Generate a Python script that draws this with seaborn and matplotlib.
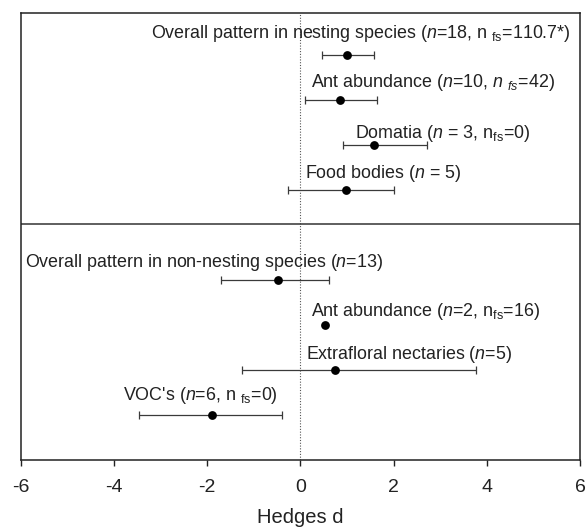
import numpy as np
import pandas as pd
import matplotlib
matplotlib.use("Agg")
import matplotlib.pyplot as plt
import seaborn as sns

# effect sizes (Hedges d) with 95% CI
groups = ["nesting"] * 4 + ["non-nesting"] * 4
labels = [
    r"Overall pattern in nesting species ($\mathit{n}$=18, n $_{\mathrm{fs}}$=110.7*)",
    r"Ant abundance ($\mathit{n}$=10, $\mathit{n}$ $_{\mathit{fs}}$=42)",
    r"Domatia ($\mathit{n}$ = 3, n$_{\mathrm{fs}}$=0)",
    r"Food bodies ($\mathit{n}$ = 5)",
    r"Overall pattern in non-nesting species ($\mathit{n}$=13)",
    r"Ant abundance ($\mathit{n}$=2, n$_{\mathrm{fs}}$=16)",
    r"Extrafloral nectaries ($\mathit{n}$=5)",
    r"VOC's ($\mathit{n}$=6, n $_{\mathrm{fs}}$=0)",
]
row = [1, 2, 3, 4, 6, 7, 8, 9]
d = [1.00, 0.84, 1.59, 0.99, -0.49, 0.53, 0.74, -1.89]
ci_low = [0.46, 0.09, 0.92, -0.26, -1.71, np.nan, -1.25, -3.46]
ci_high = [1.58, 1.64, 2.72, 2.00, 0.61, np.nan, 3.77, -0.39]

# where each label starts (x) and how far above its point the baseline sits
label_x = [-3.21, 0.22, 1.17, 0.10, -5.90, 0.22, 0.12, -3.80]
label_dy = [0.37, 0.28, 0.15, 0.26, 0.30, 0.21, 0.24, 0.33]

df = pd.DataFrame({"group": groups, "label": labels, "row": row, "d": d,
                   "lo": ci_low, "hi": ci_high})

sns.set_style("white")
plt.rcParams["font.family"] = ["Liberation Sans", "DejaVu Sans"]
plt.rcParams["mathtext.fontset"] = "custom"
plt.rcParams["mathtext.rm"] = "Liberation Sans"
plt.rcParams["mathtext.it"] = "Liberation Sans:italic"
plt.rcParams["axes.unicode_minus"] = False

fig = plt.figure(figsize=(5.86, 5.32), dpi=100)
ax = fig.add_axes([0.0353, 0.1353, 0.9545, 0.8407])

txt = "#222222"
ax.axvline(0, color="#555555", lw=0.8, ls=(0, (1, 1.5)), zorder=1)
ax.axhline(4.76, color="#333333", lw=1.1, zorder=1)

bars = df.dropna(subset=["lo"])
ax.errorbar(bars["d"], bars["row"],
            xerr=[bars["d"] - bars["lo"], bars["hi"] - bars["d"]],
            fmt="none", ecolor="#3a3a3a", elinewidth=0.9, capsize=3.2,
            capthick=0.9, zorder=2)
sns.scatterplot(data=df, x="d", y="row", color="black", s=40,
                edgecolor="black", linewidth=0, legend=False, ax=ax, zorder=3)

for lab, y, lx, dy in zip(df["label"], df["row"], label_x, label_dy):
    ax.text(lx, y - dy, lab, fontsize=12.9, color=txt, ha="left",
            va="baseline")

ax.set_xlim(-6, 6)
ax.set_ylim(10.0, 0.06)
ax.set_xticks([-6, -4, -2, 0, 2, 4, 6])
ax.set_yticks([])
ax.tick_params(axis="x", direction="out", length=4, width=1, color="#222222",
               labelsize=14, labelcolor=txt, pad=10, bottom=True)
for s in ax.spines.values():
    s.set_color("#222222")
    s.set_linewidth(1.1)
ax.set_xlabel("Hedges d", fontsize=14.5, color=txt, labelpad=8)
ax.set_ylabel("")

fig.savefig("out.png", dpi=100)
